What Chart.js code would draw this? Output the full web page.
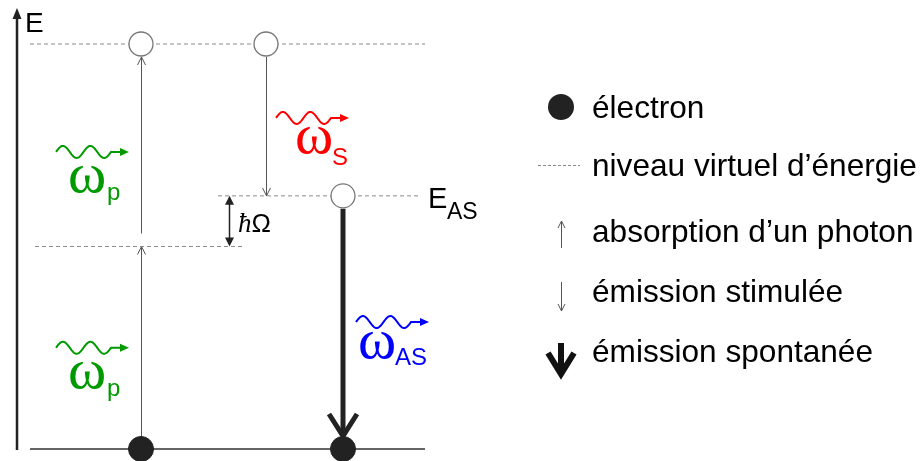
<!DOCTYPE html>
<html>
<head>
<meta charset="utf-8">
<script src="https://cdn.jsdelivr.net/npm/chart.js@4"></script>
<style>
  html, body { margin: 0; padding: 0; background: #fff; }
  canvas { display: block; }
</style>
</head>
<body>
<canvas id="diagram" width="921" height="461"></canvas>
<script>
// energy levels (units of the pump photon energy)
const levelNames = ["fondamental", "virtuel 1", "E_AS", "virtuel 2"];
const levelEnergy = [0, 1, 1.25, 2];
const levelStart = [30, 35, 218, 30];
const levelEnd = [425, 245, 420, 425];

// states on the levels
const virtualX = [141, 266, 343];
const virtualE = [2, 2, 1.25];
const electronX = [141, 343];
const electronE = [0, 0];

// transitions: column, from energy, to energy, kind
const transX = [141, 141, 266, 343];
const transFrom = [0, 1, 2, 1.25];
const transTo = [1, 2, 1.25, 0];
const transKind = ["abs", "abs", "stim", "spont"];

// photons
const photonX = [56, 56, 276, 356];
const photonE = [1.467, 0.500, 1.635, 0.627];
const photonColor = ["#009a00", "#009a00", "#ff0000", "#0000ff"];
const photonSub = ["p", "p", "S", "AS"];

const legendLabels = ["électron", "niveau virtuel d’énergie", "absorption d’un photon", "émission stimulée", "émission spontanée"];

const SANS = '"Liberation Sans", Arial, sans-serif';
const SERIF = '"Liberation Serif", "Times New Roman", serif';

// label placement relative to the start of each wave
const omegaDx = [12, 12, 19, 2];
const omegaDy = [40, 40, 35, 36];
const subDx = [39, 39, 37, 37];
const subDy = [8, 8, 12, 7];

function openHead(ctx, x, y, dir, len, half) {
  ctx.beginPath();
  ctx.moveTo(x - half, y - dir * len);
  ctx.lineTo(x, y);
  ctx.lineTo(x + half, y - dir * len);
  ctx.stroke();
}

function filledHead(ctx, x, y, dx, dy, len, half) {
  // dx,dy unit direction of travel
  ctx.beginPath();
  ctx.moveTo(x, y);
  ctx.lineTo(x - dx * len - dy * half, y - dy * len + dx * half);
  ctx.lineTo(x - dx * len + dy * half, y - dy * len - dx * half);
  ctx.closePath();
  ctx.fill();
}

function wave(ctx, x0, yc, color) {
  const period = 27.5, amp = 6;
  ctx.save();
  ctx.strokeStyle = color;
  ctx.fillStyle = color;
  ctx.lineWidth = 2;
  ctx.beginPath();
  for (let t = 0; t <= 2 * period; t += 0.5) {
    const y = yc - amp * Math.sin(2 * Math.PI * t / period);
    if (t === 0) ctx.moveTo(x0 + t, y); else ctx.lineTo(x0 + t, y);
  }
  ctx.lineTo(x0 + 66, yc);
  ctx.stroke();
  filledHead(ctx, x0 + 73, yc, 1, 0, 9, 4);
  ctx.restore();
}

function omegaLabel(ctx, x, y, i) {
  ctx.save();
  ctx.fillStyle = photonColor[i];
  ctx.textBaseline = "alphabetic";
  ctx.font = "58px " + SERIF;
  ctx.fillText("ω", x, y);
  ctx.font = "24px " + SANS;
  ctx.fillText(photonSub[i], x + subDx[i], y + subDy[i]);
  ctx.restore();
}

const diagramPlugin = {
  id: "diagram",
  beforeDatasetsDraw(chart) {
    const ctx = chart.ctx;
    const xs = chart.scales.x, ys = chart.scales.y;
    ctx.save();
    transX.forEach((tx, i) => {
      const px = xs.getPixelForValue(tx);
      const y0 = ys.getPixelForValue(transFrom[i]);
      const y1 = ys.getPixelForValue(transTo[i]);
      const dir = y1 > y0 ? 1 : -1;
      const startOff = transFrom[i] === 0 ? 0 : 13;
      const endOff = transTo[i] === 0 ? 13 : (transTo[i] === 2 ? 13 : 0);
      const a = y0 + dir * startOff;
      const b = y1 - dir * endOff;
      if (transKind[i] === "spont") {
        ctx.strokeStyle = "#222";
        ctx.lineWidth = 5;
        ctx.lineCap = "butt";
        ctx.beginPath();
        ctx.moveTo(px, a);
        ctx.lineTo(px, b - 2);
        ctx.stroke();
        ctx.lineJoin = "miter";
        openHead(ctx, px, b, dir, 22, 14);
      } else {
        ctx.strokeStyle = "#555";
        ctx.lineWidth = 1;
        ctx.beginPath();
        ctx.moveTo(px + 0.5, a);
        ctx.lineTo(px + 0.5, b);
        ctx.stroke();
        openHead(ctx, px + 0.5, b, dir, 8, 4);
      }
    });
    ctx.restore();
  },
  afterDatasetsDraw(chart) {
    const ctx = chart.ctx;
    const xs = chart.scales.x, ys = chart.scales.y;
    ctx.save();

    // energy axis
    ctx.strokeStyle = "#222";
    ctx.fillStyle = "#222";
    ctx.lineWidth = 2.5;
    ctx.beginPath();
    ctx.moveTo(17, 450);
    ctx.lineTo(17, 17);
    ctx.stroke();
    filledHead(ctx, 17, 8, 0, -1, 11, 4.5);
    ctx.fillStyle = "#000";
    ctx.font = "28px " + SANS;
    ctx.fillText("E", 25, 32);

    // E_AS label
    const yAS = ys.getPixelForValue(levelEnergy[2]);
    ctx.font = "29px " + SANS;
    ctx.fillText("E", 428, yAS + 12);
    ctx.font = "23px " + SANS;
    ctx.fillText("AS", 447, yAS + 23);

    // hbar Omega bracket
    const yV1 = ys.getPixelForValue(levelEnergy[1]);
    ctx.strokeStyle = "#222";
    ctx.fillStyle = "#222";
    ctx.lineWidth = 1.5;
    ctx.beginPath();
    ctx.moveTo(229.5, yAS + 6);
    ctx.lineTo(229.5, yV1 - 6);
    ctx.stroke();
    filledHead(ctx, 229.5, yAS, 0, -1, 9, 4.5);
    filledHead(ctx, 229.5, yV1, 0, 1, 9, 4.5);
    ctx.fillStyle = "#000";
    ctx.font = "italic 27px " + SERIF;
    ctx.fillText("ħ", 238, yAS + 36);
    const hw = ctx.measureText("ħ").width;
    ctx.font = "26px " + SANS;
    ctx.fillText("Ω", 238 + hw, yAS + 36);

    // photons
    photonX.forEach((x, i) => {
      const px = xs.getPixelForValue(x);
      const py = ys.getPixelForValue(photonE[i]);
      wave(ctx, px, py, photonColor[i]);
      omegaLabel(ctx, px + omegaDx[i], py + omegaDy[i], i);
    });

    // legend
    const lx = 561, tx = 592;
    const rows = [118, 176, 242, 302, 362];
    ctx.font = "31.6px " + SANS;
    ctx.fillStyle = "#000";
    legendLabels.forEach((t, i) => ctx.fillText(t, tx, rows[i]));

    ctx.fillStyle = "#222";
    ctx.beginPath();
    ctx.arc(lx, 107, 13, 0, Math.PI * 2);
    ctx.fill();

    ctx.strokeStyle = "#888";
    ctx.lineWidth = 1;
    ctx.setLineDash([3, 2]);
    ctx.beginPath();
    ctx.moveTo(538, 165.5);
    ctx.lineTo(580, 165.5);
    ctx.stroke();
    ctx.setLineDash([]);

    ctx.strokeStyle = "#555";
    ctx.lineWidth = 1;
    ctx.beginPath();
    ctx.moveTo(lx + 0.5, 248);
    ctx.lineTo(lx + 0.5, 221);
    ctx.stroke();
    openHead(ctx, lx + 0.5, 221, -1, 7, 3.5);
    ctx.beginPath();
    ctx.moveTo(lx + 0.5, 282);
    ctx.lineTo(lx + 0.5, 311);
    ctx.stroke();
    openHead(ctx, lx + 0.5, 311, 1, 7, 3.5);

    ctx.strokeStyle = "#111";
    ctx.lineWidth = 6;
    ctx.beginPath();
    ctx.moveTo(lx, 343);
    ctx.lineTo(lx, 372);
    ctx.stroke();
    ctx.lineJoin = "miter";
    openHead(ctx, lx, 374, 1, 21, 13);

    ctx.restore();
  }
};

const levelSets = levelNames.map((name, i) => ({
  label: name,
  data: [{ x: levelStart[i], y: levelEnergy[i] }, { x: levelEnd[i], y: levelEnergy[i] }],
  showLine: true,
  borderColor: i === 0 ? "#333" : "#8a8a8a",
  borderWidth: i === 0 ? 1.5 : 1,
  borderDash: i === 0 ? [] : [4, 3],
  pointRadius: 0,
  order: 5
}));

const datasets = [
  {
    label: "électrons",
    data: electronX.map((x, i) => ({ x: x, y: electronE[i] })),
    pointRadius: 12.5,
    pointBackgroundColor: "#222",
    pointBorderColor: "#222",
    pointBorderWidth: 1,
    clip: false,
    order: 0
  },
  {
    label: "états virtuels",
    data: virtualX.map((x, i) => ({ x: x, y: virtualE[i] })),
    pointRadius: 12,
    pointBackgroundColor: "#fff",
    pointBorderColor: "#777",
    pointBorderWidth: 1.3,
    clip: false,
    order: 1
  },
  ...levelSets
];

new Chart(document.getElementById("diagram"), {
  type: "scatter",
  data: { datasets: datasets },
  options: {
    responsive: false,
    animation: false,
    events: [],
    layout: { padding: 0, autoPadding: false },
    plugins: {
      legend: { display: false },
      tooltip: { enabled: false },
      title: { display: false }
    },
    scales: {
      x: { type: "linear", display: false, min: 0, max: 921 },
      y: { type: "linear", display: false, min: -0.0593, max: 2.2173 }
    }
  },
  plugins: [diagramPlugin]
});
</script>
</body>
</html>
